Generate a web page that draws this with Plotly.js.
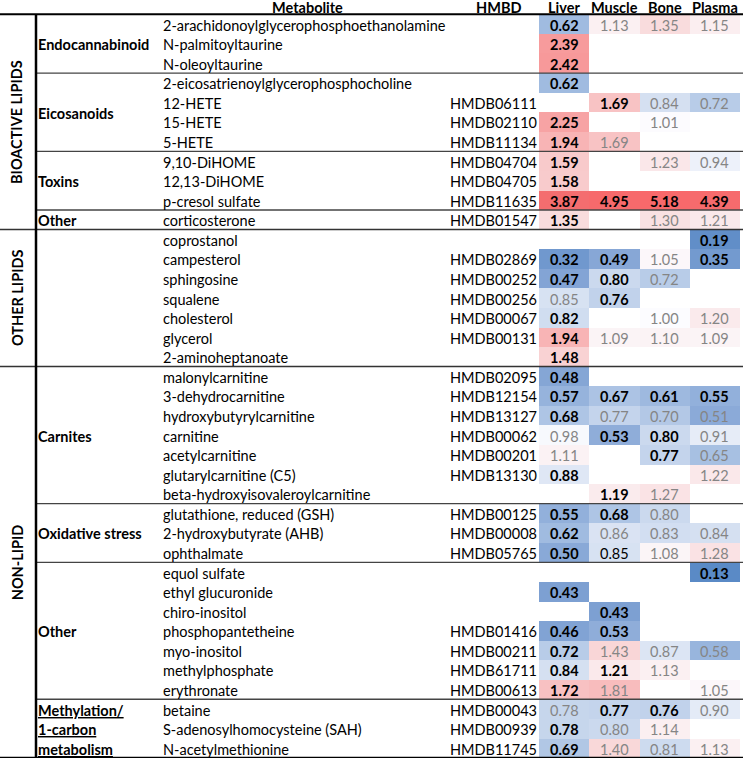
<!DOCTYPE html>
<html><head><meta charset="utf-8">
<script src="https://cdn.plot.ly/plotly-3.0.1.min.js"></script>
<style>html,body{margin:0;padding:0;background:#fff}#chart{width:743px;height:758px}</style>
</head><body><div id="chart"></div>
<script>
const tissues = ['Liver', 'Muscle', 'Bone', 'Plasma'];
const metabolites = [
  '2-arachidonoylglycerophosphoethanolamine', 'N-palmitoyltaurine', 'N-oleoyltaurine',
  '2-eicosatrienoylglycerophosphocholine', '12-HETE', '15-HETE', '5-HETE',
  '9,10-DiHOME', '12,13-DiHOME', 'p-cresol sulfate', 'corticosterone',
  'coprostanol', 'campesterol', 'sphingosine', 'squalene', 'cholesterol', 'glycerol', '2-aminoheptanoate',
  'malonylcarnitine', '3-dehydrocarnitine', 'hydroxybutyrylcarnitine', 'carnitine', 'acetylcarnitine',
  'glutarylcarnitine (C5)', 'beta-hydroxyisovaleroylcarnitine',
  'glutathione, reduced (GSH)', '2-hydroxybutyrate (AHB)', 'ophthalmate',
  'equol sulfate', 'ethyl glucuronide', 'chiro-inositol', 'phosphopantetheine', 'myo-inositol',
  'methylphosphate', 'erythronate',
  'betaine', 'S-adenosylhomocysteine (SAH)', 'N-acetylmethionine'
];
const hmdb = [
  '', '', '', '', 'HMDB06111', 'HMDB02110', 'HMDB11134', 'HMDB04704', 'HMDB04705', 'HMDB11635', 'HMDB01547',
  '', 'HMDB02869', 'HMDB00252', 'HMDB00256', 'HMDB00067', 'HMDB00131', '',
  'HMDB02095', 'HMDB12154', 'HMDB13127', 'HMDB00062', 'HMDB00201', 'HMDB13130', '',
  'HMDB00125', 'HMDB00008', 'HMDB05765',
  '', '', '', 'HMDB01416', 'HMDB00211', 'HMDB61711', 'HMDB00613',
  'HMDB00043', 'HMDB00939', 'HMDB11745'
];
const liver  = [0.62, 2.39, 2.42, 0.62, null, 2.25, 1.94, 1.59, 1.58, 3.87, 1.35, null, 0.32, 0.47, 0.85, 0.82, 1.94, 1.48, 0.48, 0.57, 0.68, 0.98, 1.11, 0.88, null, 0.55, 0.62, 0.50, null, 0.43, null, 0.46, 0.72, 0.84, 1.72, 0.78, 0.78, 0.69];
const muscle = [1.13, null, null, null, 1.69, null, 1.69, null, null, 4.95, null, null, 0.49, 0.80, 0.76, null, 1.09, null, null, 0.67, 0.77, 0.53, null, null, 1.19, 0.68, 0.86, 0.85, null, null, 0.43, 0.53, 1.43, 1.21, 1.81, 0.77, 0.80, 1.40];
const bone   = [1.35, null, null, null, 0.84, 1.01, null, 1.23, null, 5.18, 1.30, null, 1.05, 0.72, null, 1.00, 1.10, null, null, 0.61, 0.70, 0.80, 0.77, null, 1.27, 0.80, 0.83, 1.08, null, null, null, null, 0.87, 1.13, null, 0.76, 1.14, 0.81];
const plasma = [1.15, null, null, null, 0.72, null, null, 0.94, null, 4.39, 1.21, 0.19, 0.35, null, null, 1.20, 1.09, null, null, 0.55, 0.51, 0.91, 0.65, 1.22, null, null, 0.84, 1.28, 0.13, null, null, null, 0.58, null, 1.05, 0.90, null, 1.13];
// b = significant (bold), g = not significant (grey), k = plain black, . = no value
const liverSig  = 'bbbb.bbbbbb.bbgbbbbbbggb.bbb.b.bbbbgbb';
const muscleSig = 'g...b.g..b..bbb.g..bgb..bbgk..bbgbgbgg';
const boneSig   = 'g...gg.g.bg.gg.gg..bgbb.gggg....gg.bgg';
const plasmaSig = 'g...g..g.bgbb..gg..bgggg..ggb...g.gg.g';

const classLabels = ['BIOACTIVE LIPIDS', 'OTHER LIPIDS', 'NON-LIPID'];
const classStart = [0, 11, 18];
const classEnd = [10, 17, 37];
const groupLabels = ['Endocannabinoid', 'Eicosanoids', 'Toxins', 'Other', '', 'Carnites', 'Oxidative stress', 'Other', 'Methylation/|1-carbon|metabolism'];
const groupStart = [0, 3, 7, 10, 11, 18, 25, 28, 35];
const groupEnd = [2, 6, 9, 10, 17, 24, 27, 34, 37];

// ---------- rendering ----------
const W = 743, H = 758;
const px = v => v / W;
const FONT = 'Lato, Carlito, Calibri, sans-serif';
const FS = 14.5;
const series = [liver, muscle, bone, plasma];
const sigs = [liverSig, muscleSig, boneSig, plasmaSig];
const n = metabolites.length;
const z = metabolites.map((_, i) => series.map(s => s[i]));
const all = series.flat().filter(v => v !== null);
const zmin = Math.min(...all), zmax = Math.max(...all);
const anchors = [[zmin, '#5a8ac6'], [0.45, '#7fa1d3'], [0.62, '#a0bbe0'], [0.8, '#cbd9ee'], [1.0, '#fcfcff'],
  [1.35, '#f9dcdd'], [1.7, '#f8c2c3'], [2.4, '#f79a9b'], [3.9, '#f46c6e'], [zmax, '#f8696b']];
const colorscale = anchors.map(([v, c]) => [(v - zmin) / (zmax - zmin), c]);

const ann = [];
const base = {showarrow: false, borderpad: 0, borderwidth: 0, font: {family: FONT, size: FS, color: '#000'}};
const yShift = -1;
// header
const head = (x, xref, text) => ann.push({...base, xref: xref, yref: 'paper', x: x, y: 1, yshift: 1, text: '<b>' + text + '</b>', xanchor: 'center', yanchor: 'top'});
head(px(307), 'paper', 'Metabolite');
head(px(498), 'paper', 'HMBD');
tissues.forEach(t => head(t, 'x', t));
// rows
metabolites.forEach((m, i) => {
  ann.push({...base, xref: 'paper', yref: 'y', x: px(163), y: i, yshift: yShift, text: m, xanchor: 'left', yanchor: 'middle'});
  if (hmdb[i]) ann.push({...base, xref: 'paper', yref: 'y', x: px(537), y: i, yshift: yShift, text: hmdb[i], xanchor: 'right', yanchor: 'middle'});
  series.forEach((s, j) => {
    const v = s[i];
    if (v === null) return;
    const st = sigs[j][i];
    const txt = v.toFixed(2);
    ann.push({...base, xref: 'x', yref: 'y', x: tissues[j], y: i, yshift: yShift,
      text: st === 'b' ? '<b>' + txt + '</b>' : txt, xanchor: 'center', yanchor: 'middle',
      font: {family: FONT, size: FS, color: st === 'g' ? '#858585' : '#000'}});
  });
});
// group labels
groupLabels.forEach((g, k) => {
  if (!g) return;
  const parts = g.split('|');
  if (parts.length > 1) {
    parts.forEach((p, q) => ann.push({...base, xref: 'paper', yref: 'y', x: px(38), y: groupStart[k] + q, yshift: yShift,
      text: '<b><u>' + p + '</u></b>', xanchor: 'left', yanchor: 'middle'}));
  } else {
    ann.push({...base, xref: 'paper', yref: 'y', x: px(38), y: (groupStart[k] + groupEnd[k]) / 2, yshift: yShift,
      text: '<b>' + g + '</b>', xanchor: 'left', yanchor: 'middle'});
  }
});
// class labels
classLabels.forEach((c, k) => ann.push({...base, xref: 'paper', yref: 'y', x: px(17), y: (classStart[k] + classEnd[k]) / 2,
  text: '<b>' + c + '</b>', textangle: -90, xanchor: 'center', yanchor: 'middle'}));

// lines
const shapes = [];
const hline = (y, x0, w, c) => shapes.push({type: 'line', xref: 'paper', yref: 'y', x0: x0, x1: 1, y0: y, y1: y, line: {color: c, width: w}});
hline(-0.5, 0, 2, '#000');
hline(n - 0.5, 0, 2.5, '#000');
classStart.forEach(s => { if (s > 0) hline(s - 0.5, 0, 1.5, '#333'); });
groupStart.forEach(s => { if (s > 0 && !classStart.includes(s)) hline(s - 0.5, px(36), 1.3, '#444'); });
shapes.push({type: 'line', xref: 'paper', yref: 'y', x0: px(36), x1: px(36), y0: -0.5, y1: n - 0.5, line: {color: '#000', width: 2.5}});

const trace = {type: 'heatmap', x: tissues, y: metabolites, z: z, zmin: zmin, zmax: zmax,
  colorscale: colorscale, showscale: false, hoverinfo: 'skip', xgap: 0, ygap: 0};

const layout = {
  width: W, height: H, margin: {l: 0, r: 0, t: 0, b: 0, pad: 0},
  paper_bgcolor: '#fff', plot_bgcolor: 'rgba(0,0,0,0)', showlegend: false,
  font: {family: FONT, size: FS},
  xaxis: {domain: [px(539), px(740)], type: 'category', range: [-0.5, 3.5], visible: false, fixedrange: true},
  yaxis: {type: 'category', range: [37.501, -1.2315], visible: false, fixedrange: true},
  annotations: ann, shapes: shapes
};
Plotly.newPlot('chart', [trace], layout, {displayModeBar: false, staticPlot: true});
</script>
</body></html>
